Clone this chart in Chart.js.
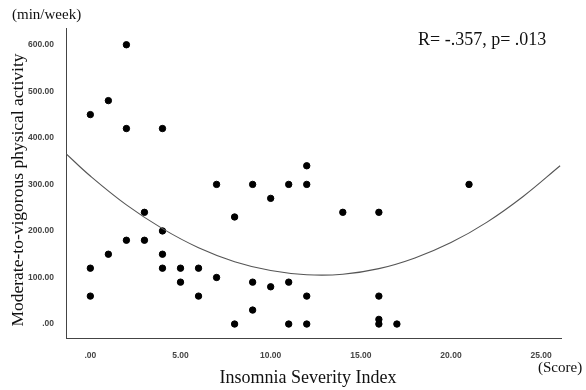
<!DOCTYPE html>
<html>
<head>
<meta charset="utf-8">
<script src="https://cdn.jsdelivr.net/npm/chart.js@4.4.1/dist/chart.umd.min.js"></script>
<style>
  html, body { margin: 0; padding: 0; background: #fff; }
  #wrap { width: 586px; height: 390px; position: relative; }
</style>
</head>
<body>
<div id="wrap"><canvas id="c" width="586" height="390"></canvas></div>
<script>
// Insomnia Severity Index (score)
const isiScores = [2, 1, 0, 2, 4, 12, 7, 9, 11, 12, 21, 10, 3, 14, 16, 8, 4, 2, 3, 1, 4,
                   0, 4, 5, 6, 7, 5, 9, 11, 10, 0, 6, 12, 16, 9, 16, 8, 11, 12, 16, 17];
// Moderate-to-vigorous physical activity (min/week)
const mvpaMinutes = [600, 480, 450, 420, 420, 340, 300, 300, 300, 300, 300, 270, 240, 240, 240, 230, 200, 180, 180, 150, 150,
                     120, 120, 120, 120, 100, 90, 90, 90, 80, 60, 60, 60, 60, 30, 10, 0, 0, 0, 0, 0];
// Quadratic fit curve
const fitX = [-1.35, 0, 2, 4, 6, 8, 10, 12, 14, 16, 18, 20, 22, 24, 26.05];
const fitY = [366, 318, 256, 205, 164, 134, 115, 106, 107, 119, 142, 175, 219, 274, 340];
// Tick labels
const xTicks = [0, 5, 10, 15, 20, 25];
const yTicks = [0, 100, 200, 300, 400, 500, 600];

const fmt = v => { const s = Number(v).toFixed(2); return s.startsWith('0') ? s.slice(1) : s; };

const scatterData = isiScores.map((x, i) => ({ x: x, y: mvpaMinutes[i] }));
const fitData = fitX.map((x, i) => ({ x: x, y: fitY[i] }));

const SERIF = '"Liberation Serif", "Times New Roman", serif';

const textPlugin = {
  id: 'texts',
  afterDraw(chart) {
    const ctx = chart.ctx;
    ctx.save();
    ctx.fillStyle = '#111';
    ctx.textBaseline = 'alphabetic';
    ctx.font = '15px ' + SERIF;
    ctx.textAlign = 'left';
    ctx.fillText('(min/week)', 12, 19);
    ctx.font = '18px ' + SERIF;
    ctx.fillText('R= -.357, p= .013', 418, 45);
    ctx.font = '18px ' + SERIF;
    ctx.textAlign = 'center';
    ctx.fillText('Insomnia Severity Index', 308, 383);
    ctx.font = '15px ' + SERIF;
    ctx.textAlign = 'left';
    ctx.fillText('(Score)', 538, 372);
    ctx.translate(23, 190);
    ctx.rotate(-Math.PI / 2);
    ctx.font = '17.5px ' + SERIF;
    ctx.textAlign = 'center';
    ctx.fillText('Moderate-to-vigorous physical activity', 0, 0);
    ctx.restore();
  }
};

new Chart(document.getElementById('c'), {
  type: 'scatter',
  data: {
    datasets: [
      {
        type: 'line',
        data: fitData,
        borderColor: '#555',
        borderWidth: 1.1,
        pointRadius: 0,
        tension: 0.4,
        fill: false
      },
      {
        data: scatterData,
        backgroundColor: '#000',
        borderColor: '#000',
        pointRadius: 3.2,
        pointHoverRadius: 3.2
      }
    ]
  },
  options: {
    responsive: false,
    animation: false,
    events: [],
    layout: { padding: { top: 28, right: 25, left: 0, bottom: 0 } },
    plugins: { legend: { display: false }, tooltip: { enabled: false } },
    scales: {
      x: {
        type: 'linear',
        min: -1.35,
        max: 26.1,
        grid: { display: false },
        border: { display: true, color: '#444', width: 1 },
        afterBuildTicks: s => { s.ticks = xTicks.map(v => ({ value: v })); },
        afterFit: s => { s.height = 52; },
        ticks: {
          autoSkip: false,
          maxRotation: 0,
          padding: 5,
          color: '#444',
          font: { family: '"Liberation Sans", Arial, sans-serif', size: 8.5, weight: 'bold' },
          callback: v => fmt(v)
        }
      },
      y: {
        type: 'linear',
        min: -30,
        max: 636,
        grid: { display: false },
        border: { display: true, color: '#444', width: 1 },
        afterBuildTicks: s => { s.ticks = yTicks.map(v => ({ value: v })); },
        afterFit: s => { s.width = 66; },
        ticks: {
          autoSkip: false,
          padding: 4,
          color: '#444',
          font: { family: '"Liberation Sans", Arial, sans-serif', size: 8.5, weight: 'bold' },
          callback: v => fmt(v)
        }
      }
    }
  },
  plugins: [textPlugin]
});
</script>
</body>
</html>
